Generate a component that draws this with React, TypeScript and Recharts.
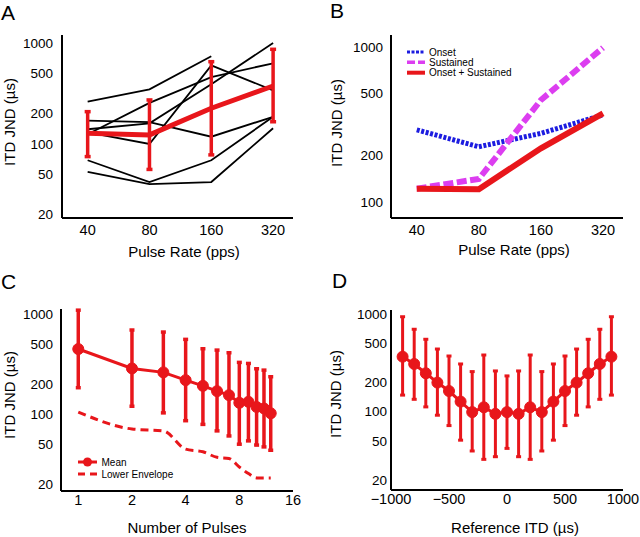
import React from 'react';
import { LineChart, Line, XAxis, YAxis, ErrorBar } from 'recharts';

const RED = '#e8161b';
const BLUE = '#1c1ce0';
const MAGENTA = '#dc3ef0';
const FONT = '"Liberation Sans", Arial, Helvetica, sans-serif';

// A: ITD JND vs pulse rate, individual subjects + mean
const rates = [40, 80, 160, 320];
const meanA = [128, 123, 226, 375];
const lowA = [75, 56, 78, 166];
const highA = [209, 273, 653, 866];
const subj1 = [263, 348, 740, null];
const subj2 = [53, 40, 42, 143];
const subj3 = [69, 42, 69, 186];
const subj4 = [170, 165, 118, 186];
const subj5 = [130, 100, 600, 340];
const subj6 = [125, 255, 460, 630];
const subj7 = [140, 160, 390, 1000];
const subjects = [subj1, subj2, subj3, subj4, subj5, subj6, subj7];

// B: model fits
const onset = [292, 227, 277, 364];
const sustained = [122, 141, 454, 986];
const combined = [122, 121, 222, 373];

// C: number of pulses
const pulses = [1, 2, 3, 4, 5, 6, 7, 8, 9, 10, 11, 12];
const meanC = [449, 287, 262, 219, 192, 170, 155, 130, 133, 118, 114, 102];
const highC = [1100, 696, 664, 561, 452, 438, 412, 330, 322, 285, 276, 237];
const lowC = [184, 120, 103, 86, 79, 68, 60.5, 50, 54, 49, 47, 43.5];
const envC = [105, 71, 68, 44.6, 42, 37, 36, 29.6, 25.4, 23, 23, 23];

// D: reference ITD
const itd = [-900, -800, -700, -600, -500, -400, -300, -200, -100, 0, 100, 200, 300, 400, 500, 600, 700, 800, 900];
const meanD = [367, 309, 248, 199, 163, 127, 99, 111, 95, 99, 95, 111, 99, 127, 163, 199, 248, 309, 367];
const highD = [944, 702, 554, 440, 373, 309, 258, 382, 262, 233, 262, 382, 258, 309, 373, 440, 554, 702, 944];
const lowD = [148, 134, 112, 92, 72, 51, 39.5, 32.4, 34.5, 42, 34.5, 32.4, 39.5, 51, 72, 92, 112, 134, 148];

const yTicks = [20, 50, 100, 200, 500, 1000];
const yTicksB = [100, 200, 500, 1000];
const rateTicks = [40, 80, 160, 320];
const pulseTicks = [1, 2, 4, 8, 16];
const itdTicks = [-1000, -500, 0, 500, 1000];

const fmtItd = (v: number) => (v < 0 ? `\u2212${Math.abs(v)}` : `${v}`);

const dataA = rates.map((r, i) => {
  const row: any = { rate: r, mean: meanA[i], err: [meanA[i] - lowA[i], highA[i] - meanA[i]] };
  subjects.forEach((s, k) => { row['s' + k] = s[i]; });
  return row;
});
const dataB = rates.map((r, i) => ({ rate: r, onset: onset[i], sustained: sustained[i], combined: combined[i] }));
const dataC = pulses.map((p, i) => ({ n: p, mean: meanC[i], env: envC[i], err: [meanC[i] - lowC[i], highC[i] - meanC[i]] }));
const dataD = itd.map((x, i) => ({ itd: x, mean: meanD[i], err: [meanD[i] - lowD[i], highD[i] - meanD[i]] }));

const axisLine = { stroke: '#000', strokeWidth: 2 };
const xTick = { fill: '#000', fontSize: 14.5, fontFamily: FONT };
const yTick = { fill: '#000', fontSize: 13.5, fontFamily: FONT };

function Box({ left, top, children }: { left: number; top: number; children: React.ReactNode }) {
  return <div style={{ position: 'absolute', left, top }}>{children}</div>;
}

export default function App() {
  return (
    <div style={{ position: 'absolute', left: 0, top: 0, width: 640, height: 537, background: '#fff', overflow: 'hidden' }}>
      {/* A */}
      <Box left={0} top={0}>
        <LineChart width={320} height={270} data={dataA} margin={{ top: 35, right: 27, bottom: 0, left: 0 }}>
          <XAxis dataKey="rate" type="number" scale="log" domain={[30, 400]} ticks={rateTicks} allowDataOverflow
            axisLine={axisLine} tickLine={false} tickSize={0} tickMargin={7} height={52} tick={xTick} />
          <YAxis type="number" scale="log" domain={[18.5, 1200]} ticks={yTicks} allowDataOverflow
            axisLine={axisLine} tickLine={false} tickSize={0} tickMargin={9} width={62} tick={yTick} />
          {subjects.map((_, k) => (
            <Line key={k} dataKey={'s' + k} stroke="#000" strokeWidth={1.8} dot={false} isAnimationActive={false} />
          ))}
          <Line dataKey="mean" stroke={RED} strokeWidth={5} dot={false} isAnimationActive={false}>
            <ErrorBar dataKey="err" direction="y" width={3} stroke={RED} strokeWidth={3.5} isAnimationActive={false} />
          </Line>
        </LineChart>
      </Box>

      {/* B */}
      <Box left={320} top={0}>
        <LineChart width={320} height={270} data={dataB} margin={{ top: 35, right: 17, bottom: 0, left: 0 }}>
          <XAxis dataKey="rate" type="number" scale="log" domain={[30, 400]} ticks={rateTicks} allowDataOverflow
            axisLine={axisLine} tickLine={false} tickSize={0} tickMargin={7} height={52} tick={xTick} />
          <YAxis type="number" scale="log" domain={[79, 1190]} ticks={yTicksB} allowDataOverflow
            axisLine={axisLine} tickLine={false} tickSize={0} tickMargin={8} width={71} tick={yTick} />
          <Line dataKey="onset" stroke={BLUE} strokeWidth={5} strokeDasharray="3 1.6" dot={false} isAnimationActive={false} />
          <Line dataKey="sustained" stroke={MAGENTA} strokeWidth={6} strokeDasharray="10 3.5" dot={false} isAnimationActive={false} />
          <Line dataKey="combined" stroke={RED} strokeWidth={6} dot={false} isAnimationActive={false} />
        </LineChart>
      </Box>

      {/* C */}
      <Box left={0} top={270}>
        <LineChart width={320} height={267} data={dataC} margin={{ top: 39, right: 27, bottom: 0, left: 0 }}>
          <XAxis dataKey="n" type="number" scale="log" domain={[0.8, 16]} ticks={pulseTicks} allowDataOverflow
            axisLine={axisLine} tickLine={false} tickSize={0} tickMargin={4} height={46} tick={xTick} />
          <YAxis type="number" scale="log" domain={[17, 1130]} ticks={yTicks} allowDataOverflow
            axisLine={axisLine} tickLine={false} tickSize={0} tickMargin={8} width={61} tick={yTick} />
          <Line dataKey="env" type="monotone" stroke={RED} strokeWidth={3} strokeDasharray="8 5" dot={false} isAnimationActive={false} />
          <Line dataKey="mean" stroke={RED} strokeWidth={3} dot={{ r: 5.5, fill: RED, stroke: RED, strokeWidth: 1 }} isAnimationActive={false}>
            <ErrorBar dataKey="err" direction="y" width={2.5} stroke={RED} strokeWidth={3.5} isAnimationActive={false} />
          </Line>
        </LineChart>
      </Box>

      {/* D */}
      <Box left={320} top={270}>
        <LineChart width={320} height={267} data={dataD} margin={{ top: 40, right: 17, bottom: 0, left: 0 }}>
          <XAxis dataKey="itd" type="number" domain={[-1000, 1000]} ticks={itdTicks} tickFormatter={fmtItd} allowDataOverflow
            axisLine={axisLine} tickLine={false} tickSize={0} tickMargin={4} height={47} tick={xTick} />
          <YAxis type="number" scale="log" domain={[15.7, 1107]} ticks={yTicks} allowDataOverflow
            axisLine={axisLine} tickLine={false} tickSize={0} tickMargin={4} width={71} tick={yTick} />
          <Line dataKey="mean" stroke={RED} strokeWidth={3} dot={{ r: 5.5, fill: RED, stroke: RED, strokeWidth: 1 }} isAnimationActive={false}>
            <ErrorBar dataKey="err" direction="y" width={2.5} stroke={RED} strokeWidth={3} isAnimationActive={false} />
          </Line>
        </LineChart>
      </Box>

      {/* labels, letters, legends */}
      <svg width={640} height={537} style={{ position: 'absolute', left: 0, top: 0, pointerEvents: 'none' }}
        fontFamily={FONT} fill="#000">
        <text x={1} y={20} fontSize={21}>A</text>
        <text x={330} y={18} fontSize={21}>B</text>
        <text x={1} y={289} fontSize={21}>C</text>
        <text x={332} y={288} fontSize={21}>D</text>

        <text x={184} y={257} fontSize={15} textAnchor="middle">Pulse Rate (pps)</text>
        <text x={514} y={255} fontSize={15} textAnchor="middle">Pulse Rate (pps)</text>
        <text x={187} y={533} fontSize={15} textAnchor="middle">Number of Pulses</text>
        <text x={515} y={533} fontSize={15} textAnchor="middle">Reference ITD ({'\u00b5'}s)</text>

        <text transform="translate(15,122) rotate(-90)" fontSize={15} textAnchor="middle">ITD JND ({'\u00b5'}s)</text>
        <text transform="translate(342,123) rotate(-90)" fontSize={15} textAnchor="middle">ITD JND ({'\u00b5'}s)</text>
        <text transform="translate(15,395) rotate(-90)" fontSize={15} textAnchor="middle">ITD JND ({'\u00b5'}s)</text>
        <text transform="translate(341,394) rotate(-90)" fontSize={15} textAnchor="middle">ITD JND ({'\u00b5'}s)</text>

        {/* legend B */}
        <line x1={407} y1={52} x2={425} y2={52} stroke={BLUE} strokeWidth={3} strokeDasharray="3 1.5" />
        <text x={429} y={55.5} fontSize={10}>Onset</text>
        <line x1={407} y1={62.3} x2={425} y2={62.3} stroke={MAGENTA} strokeWidth={3.5} strokeDasharray="8 3" />
        <text x={429} y={65.8} fontSize={10}>Sustained</text>
        <line x1={407} y1={72.7} x2={425} y2={72.7} stroke={RED} strokeWidth={4} />
        <text x={429} y={76.2} fontSize={10}>Onset + Sustained</text>

        {/* legend C */}
        <line x1={78} y1={462} x2={97} y2={462} stroke={RED} strokeWidth={3} />
        <circle cx={87.5} cy={462} r={4.5} fill={RED} />
        <text x={101.5} y={465.5} fontSize={10}>Mean</text>
        <line x1={78} y1={474} x2={97} y2={474} stroke={RED} strokeWidth={3} strokeDasharray="7 5" />
        <text x={101.5} y={477.5} fontSize={10}>Lower Envelope</text>
      </svg>
    </div>
  );
}
